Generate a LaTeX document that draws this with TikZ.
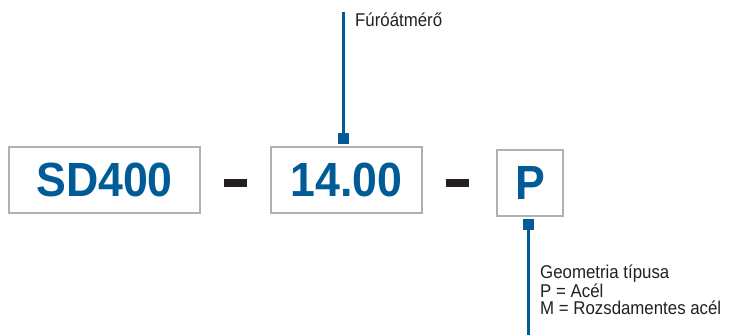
\documentclass[tikz,border=0pt]{standalone}
\usepackage{fontspec}
\setmainfont{Liberation Sans}
\newfontfamily\codefont[FakeStretch=0.93]{Liberation Sans}
\newfontfamily\notefont[FakeStretch=0.91]{Liberation Sans}
\definecolor{sdblue}{RGB}{0,91,150}
\definecolor{boxgray}{RGB}{176,177,179}
\definecolor{dashblk}{RGB}{35,31,32}
\definecolor{notegray}{RGB}{35,31,32}
\begin{document}
\begin{tikzpicture}[x=1pt,y=-1pt,
  codebox/.style={draw=boxgray, line width=2pt, inner sep=0pt,
    font=\codefont\fontsize{48}{48}\selectfont\bfseries, text=sdblue},
  sepbar/.style={fill=dashblk, minimum width=23pt, minimum height=8pt, inner sep=0pt},
  marker/.style={fill=sdblue, minimum size=11pt, inner sep=0pt},
  leader/.style={draw=sdblue, line width=2.5pt},
  note/.style={font=\notefont\fontsize{18.5}{17}\selectfont, text=notegray, inner sep=0pt, align=left}]
\useasboundingbox (0,0) rectangle (729,335);
% code boxes
\node[codebox, minimum width=191pt, minimum height=66pt] (sd) at (104.5,180) {SD400};
\node[codebox, minimum width=151pt, minimum height=66pt] (dia) at (346.5,180) {14.00};
\node[codebox, minimum width=66pt, minimum height=66pt] (geo) at (530,183) {P};
% separators
\node[sepbar] (s1) at (235.5,183) {};
\node[sepbar] (s2) at (457.5,183) {};
% markers
\node[marker] (m1) at (343.5,138.5) {};
\node[marker] (m2) at (528.5,224) {};
% free ends of leaders
\coordinate (t1) at (343.5,12);
\coordinate (t2) at (528.5,335);
\draw[leader] (t1) -- (m1.north);
\draw[leader] (m2.south) -- (t2);
% labels
\node[note, anchor=base west] (l1) at (355,26) {Fúróátmérő};
\node[note, anchor=north west] (l2) at (540,265) {Geometria típusa\\P = Acél\\M = Rozsdamentes acél};
\end{tikzpicture}
\end{document}
